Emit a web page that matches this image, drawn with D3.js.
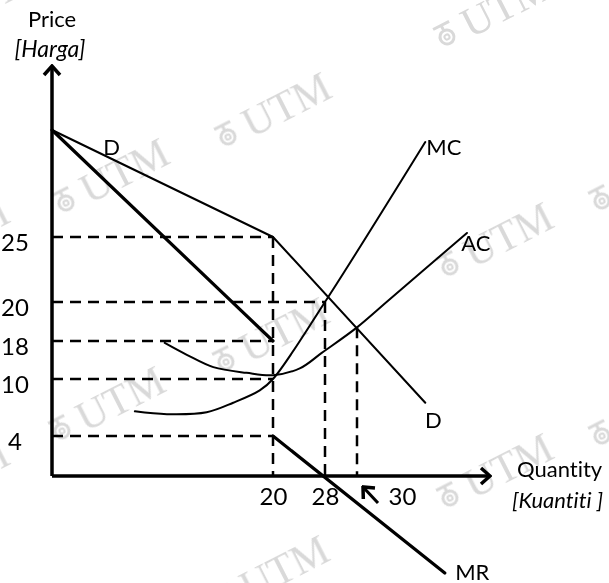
<!DOCTYPE html>
<html>
<head>
<meta charset="utf-8">
<script src="https://cdn.jsdelivr.net/npm/d3@7"></script>
<style>
  body { margin: 0; background: #fff; }
  svg { display: block; }
  text { font-family: Lato, "Open Sans", sans-serif; fill: #000; font-variant-ligatures: none; }
</style>
</head>
<body>
<svg width="609" height="583"></svg>
<script>
// values (price on y, quantity on x)
var priceTicks = [4, 10, 18, 20, 25];
var qtyTicks = [20, 28, 30];

var demandUpper = [[0, 33], [20, 25]];
var demandLower = [[20, 25], [37.7, 7.5]];
var mrUpper = [[0, 33], [20, 18]];
var mrLower = [[20, 4], [39.9, -9.7]];
var mcCurve = [[7.5, 6.6], [10.4, 6.3], [14.0, 6.5], [16.4, 7.5], [18.8, 8.8], [20, 10], [28, 20], [37.7, 32.1]];
var acCurve = [[10.2, 17.6], [12.2, 15.1], [14.6, 12.5], [17.6, 11.3], [20, 10.8], [24.2, 12.3], [27.5, 15.5], [30, 18.7], [33.5, 20.1], [42.4, 25.3]];

// dashed guides: [price, up to quantity] and [quantity, from price]
var hGuides = [[25, 20], [20, 28], [18, 20], [10, 20], [4, 20]];
var vGuides = [[20, 25], [28, 20], [30, 18.7]];

var curveLabels = [
    { t: 'D', q: 5.4, p: 31.7 },
    { t: 'D', q: 38.6, p: 5.7 },
    { t: 'MC', q: 39.8, p: 31.7 },
    { t: 'AC', q: 43.4, p: 24.5 },
    { t: 'MR', q: 43, p: -9.6 }
];

// watermark stamps (decoration only)
var stamps = [[447, 37], [228, 137], [66, 203], [450, 267], [226, 362], [62, 431], [450, 498],
    [226, 600], [-94, 262], [-94, 504], [602, 201], [602, 436], [-90, 39]];

var svg = d3.select('svg');

// the drawing is not to scale, so the scales are piecewise
var y = d3.scaleLinear()
    .domain([0, 4, 10, 18, 20, 25, 33, 37])
    .range([476, 436, 379, 341, 302, 237, 130, 66]);
var x = d3.scaleLinear()
    .domain([0, 20, 28, 30, 45])
    .range([52, 273, 325, 357, 490]);

var defs = svg.append('defs');
defs.append('filter').attr('id', 'soft')
    .append('feGaussianBlur').attr('stdDeviation', 0.7);

// watermark
var wmColor = '#d9d9d9';
var wm = svg.append('g').attr('class', 'watermark').attr('filter', 'url(#soft)');
stamps.forEach(function (s) {
    var g = wm.append('g').attr('transform', 'translate(' + s[0] + ',' + s[1] + ') rotate(-27)');
    g.append('circle').attr('r', 7).attr('fill', 'none').attr('stroke', wmColor).attr('stroke-width', 3);
    g.append('circle').attr('r', 2.5).attr('fill', 'none').attr('stroke', wmColor).attr('stroke-width', 2);
    g.append('path').attr('d', 'M-9,-13 L9,-13 M0,-13 L0,-8').attr('stroke', wmColor).attr('stroke-width', 3);
    g.append('text').attr('x', 20).attr('y', 12)
        .style('font-family', '"Liberation Serif", serif')
        .style('font-size', '42px')
        .style('fill', wmColor)
        .text('UTM');
});

// arrow heads
defs.append('marker')
    .attr('id', 'head')
    .attr('markerUnits', 'userSpaceOnUse')
    .attr('viewBox', '-12 -10 14 20')
    .attr('markerWidth', 14).attr('markerHeight', 20)
    .attr('refX', 0).attr('refY', 0)
    .attr('orient', 'auto')
    .append('path')
    .attr('d', 'M-9,-8 L0,0 L-9,8')
    .attr('fill', 'none').attr('stroke', '#000').attr('stroke-width', 3.5);

// dashed guides
var guides = svg.append('g')
    .attr('stroke', '#000').attr('stroke-width', 2.5)
    .attr('stroke-dasharray', '11,7').attr('fill', 'none');
guides.selectAll('.hg').data(hGuides).enter().append('line')
    .attr('x1', x(0)).attr('x2', function (d) { return x(d[1]); })
    .attr('y1', function (d) { return y(d[0]); }).attr('y2', function (d) { return y(d[0]); });
guides.selectAll('.vg').data(vGuides).enter().append('line')
    .attr('x1', function (d) { return x(d[0]); }).attr('x2', function (d) { return x(d[0]); })
    .attr('y1', function (d) { return y(d[1]); }).attr('y2', y(0));

// curves
var straight = d3.line().x(function (d) { return x(d[0]); }).y(function (d) { return y(d[1]); });
var smooth = d3.line().x(function (d) { return x(d[0]); }).y(function (d) { return y(d[1]); })
    .curve(d3.curveCatmullRom.alpha(0.5));

function draw(data, gen, w) {
    svg.append('path').datum(data).attr('d', gen)
        .attr('fill', 'none').attr('stroke', '#000').attr('stroke-width', w)
        .attr('stroke-linecap', 'round').attr('stroke-linejoin', 'round');
}
draw(demandUpper, straight, 2);
draw(demandLower, straight, 2);
draw(mrUpper, straight, 3.2);
draw(mrLower, straight, 3.2);
draw(acCurve, smooth, 2);
draw(mcCurve, smooth, 2);

// axes
svg.append('line')
    .attr('x1', x(0)).attr('y1', y(0)).attr('x2', x(0)).attr('y2', y(37))
    .attr('stroke', '#000').attr('stroke-width', 3.5).attr('marker-end', 'url(#head)');
svg.append('line')
    .attr('x1', x(0)).attr('y1', y(0)).attr('x2', x(45)).attr('y2', y(0))
    .attr('stroke', '#000').attr('stroke-width', 3.5).attr('marker-end', 'url(#head)');

var yAxis = svg.append('g')
    .attr('transform', 'translate(' + x(0) + ',0)')
    .call(d3.axisLeft(y).tickValues(priceTicks).tickSize(0).tickPadding(37));
yAxis.select('.domain').remove();
yAxis.selectAll('text')
    .attr('text-anchor', 'middle').attr('dy', '0.55em')
    .style('font-size', '24px').style('font-family', 'Lato, sans-serif');

var xAxis = svg.append('g')
    .attr('transform', 'translate(0,' + y(0) + ')')
    .call(d3.axisBottom(x).tickValues(qtyTicks).tickSize(0).tickPadding(12));
xAxis.select('.domain').remove();
xAxis.selectAll('text')
    .style('font-size', '24px').style('font-family', 'Lato, sans-serif')
    .attr('dx', function (d) { return d === 30 ? 45 : 0; });

// pointer from the 30 label to its guide
svg.append('line')
    .attr('x1', x(30) + 21).attr('y1', y(0) + 27)
    .attr('x2', x(30) + 6).attr('y2', y(0) + 11)
    .attr('stroke', '#000').attr('stroke-width', 3).attr('marker-end', 'url(#head)');

// curve labels
svg.selectAll('.clabel').data(curveLabels).enter().append('text')
    .attr('class', 'clabel')
    .attr('x', function (d) { return x(d.q); })
    .attr('y', function (d) { return y(d.p); })
    .attr('text-anchor', 'middle').attr('dy', '0.36em')
    .style('font-size', '22px')
    .text(function (d) { return d.t; });

// axis titles
svg.append('text').attr('x', x(0)).attr('y', 27).attr('text-anchor', 'middle')
    .style('font-size', '22px').text('Price');
svg.append('text').attr('x', x(0) - 2).attr('y', 57).attr('text-anchor', 'middle')
    .style('font-size', '23px').style('font-style', 'italic').text('[Harga]');
svg.append('text').attr('x', x(45) + 27).attr('y', 477)
    .style('font-size', '22px').text('Quantity');
svg.append('text').attr('x', x(45) + 22).attr('y', 508)
    .style('font-size', '22px').style('font-style', 'italic').text('[Kuantiti ]');
</script>
</body>
</html>
